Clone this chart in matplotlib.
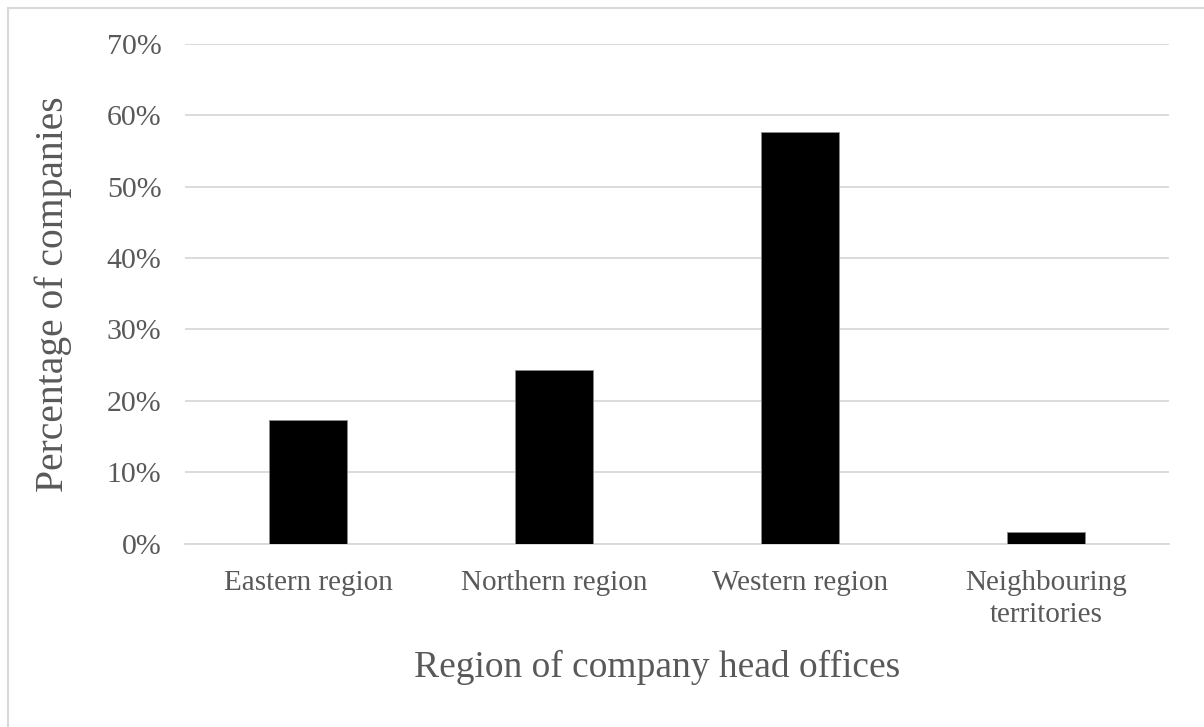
import matplotlib
matplotlib.use("Agg")
import matplotlib.pyplot as plt
from matplotlib.patches import Rectangle
from matplotlib.ticker import PercentFormatter

regions = ["Eastern region", "Northern region", "Western region", "Neighbouring\nterritories"]
shares = [17.3, 24.3, 57.6, 1.6]
y_ticks = [0, 10, 20, 30, 40, 50, 60, 70]

text_color = "#595959"
grid_color = "#d9d9d9"

plt.rcParams["font.family"] = ["Liberation Serif", "DejaVu Serif"]

fig = plt.figure(figsize=(12.04, 7.27), dpi=100)
fig.patch.set_facecolor("white")

# light chart-area border (runs off the right and bottom edges)
fig.patches.append(Rectangle((8 / 1204, -0.1), 1.2, (727 - 8) / 727 + 0.1,
                             transform=fig.transFigure, fill=False,
                             edgecolor=grid_color, linewidth=1.5))

ax = fig.add_axes([185 / 1204, (727 - 543.5) / 727, (1169 - 185) / 1204, (543.5 - 44) / 727])
x = list(range(len(regions)))
ax.bar(x, shares, width=0.315, color="black", edgecolor="#8c8c8c", linewidth=0.6, zorder=3)

ax.set_xlim(-0.5, len(regions) - 0.5)
ax.set_ylim(0, 70)
ax.set_yticks(y_ticks)
ax.yaxis.set_major_formatter(PercentFormatter(decimals=0))
ax.set_xticks(x)
ax.set_xticklabels(regions, linespacing=1.3)

ax.grid(axis="y", color=grid_color, linewidth=1.3, zorder=0)
for side in ["top", "right", "left"]:
    ax.spines[side].set_visible(False)
ax.spines["bottom"].set_color(grid_color)
ax.spines["bottom"].set_linewidth(1.3)

ax.tick_params(axis="both", length=0, colors=text_color)
ax.tick_params(axis="y", pad=17, labelsize=21.5)
ax.tick_params(axis="x", pad=19, labelsize=21)

ax.set_xlabel("Region of company head offices", fontsize=27, color=text_color)
ax.xaxis.set_label_coords((657.5 - 185) / 984, -0.213)
ax.set_ylabel("Percentage of companies", fontsize=28.5, color=text_color)
ax.yaxis.set_label_coords(-(185 - 72) / 984, 0.5)

fig.savefig("out.png", dpi=100, facecolor="white")
